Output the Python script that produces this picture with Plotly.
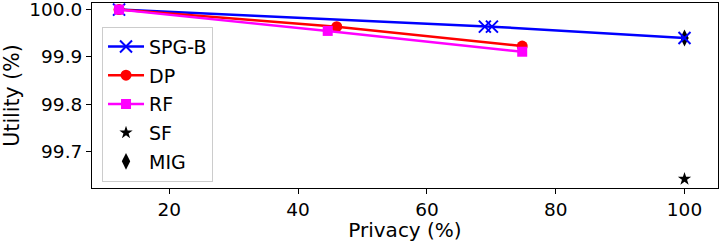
import plotly.graph_objects as go

spgb_x = [12.2, 69.0, 70.1, 100.0]
spgb_y = [100.0, 99.964, 99.964, 99.940]
dp_x = [12.2, 46.0, 74.8]
dp_y = [100.0, 99.964, 99.923]
rf_x = [12.2, 44.6, 74.8]
rf_y = [100.0, 99.955, 99.911]
sf_x = [100.0]
sf_y = [99.642]
mig_x = [100.0]
mig_y = [99.940]

xticks = [20, 40, 60, 80, 100]
yticks = [99.7, 99.8, 99.9, 100.0]

FONT = "DejaVu Sans"
fig = go.Figure()
fig.add_trace(go.Scatter(x=mig_x, y=mig_y, mode="markers", name="MIG", legendrank=5, legendgroup="g5",
                         marker=dict(symbol="diamond-tall", size=12, color="black")))
fig.add_trace(go.Scatter(x=spgb_x, y=spgb_y, mode="lines+markers", name="SPG-B", legendrank=1, legendgroup="g1",
                         line=dict(color="#0000ff", width=2.5),
                         marker=dict(symbol="x-thin", size=12, line=dict(color="#0000ff", width=2))))
fig.add_trace(go.Scatter(x=dp_x, y=dp_y, mode="lines+markers", name="DP", legendrank=2, legendgroup="g2",
                         line=dict(color="#ff0000", width=2.5),
                         marker=dict(symbol="circle", size=11, color="#ff0000")))
fig.add_trace(go.Scatter(x=rf_x, y=rf_y, mode="lines+markers", name="RF", legendrank=3, legendgroup="g3",
                         line=dict(color="#ff00ff", width=2.5),
                         marker=dict(symbol="square", size=10, color="#ff00ff")))
fig.add_trace(go.Scatter(x=sf_x, y=sf_y, mode="markers", name="SF", legendrank=4, legendgroup="g4",
                         marker=dict(symbol="star", size=10, color="black")))

axis_common = dict(showline=True, linecolor="black", linewidth=1, mirror=True,
                   ticks="outside", ticklen=5, tickwidth=1, tickcolor="black",
                   showgrid=False, zeroline=False, automargin=False,
                   ticklabeloverflow="allow",
                   tickfont=dict(family=FONT, size=18.5, color="black"))
fig.update_xaxes(range=[8.0, 105.2], tickvals=xticks,
                 title=dict(text="Privacy (%)", font=dict(family=FONT, size=20, color="black"), standoff=7),
                 **axis_common)
fig.update_yaxes(range=[99.623, 100.014], tickvals=yticks, tickformat=".1f",
                 title=dict(text="Utility (%)", font=dict(family=FONT, size=20.5, color="black"), standoff=4),
                 **axis_common)
fig.update_layout(template="none", width=720, height=242, margin=dict(l=92, r=2, t=3, b=54),
                  plot_bgcolor="white", paper_bgcolor="white",
                  font=dict(family=FONT, size=18.5, color="black"),
                  legend=dict(x=0.016, y=0.872, xanchor="left", yanchor="top",
                              traceorder="grouped",
                              bgcolor="rgba(255,255,255,0.8)", bordercolor="#cccccc", borderwidth=1,
                              font=dict(family=FONT, size=19), tracegroupgap=1, itemwidth=36))
fig.write_html("out.html", config={"displayModeBar": False},
               post_script="document.body.style.margin='0';document.body.style.overflow='hidden';")
